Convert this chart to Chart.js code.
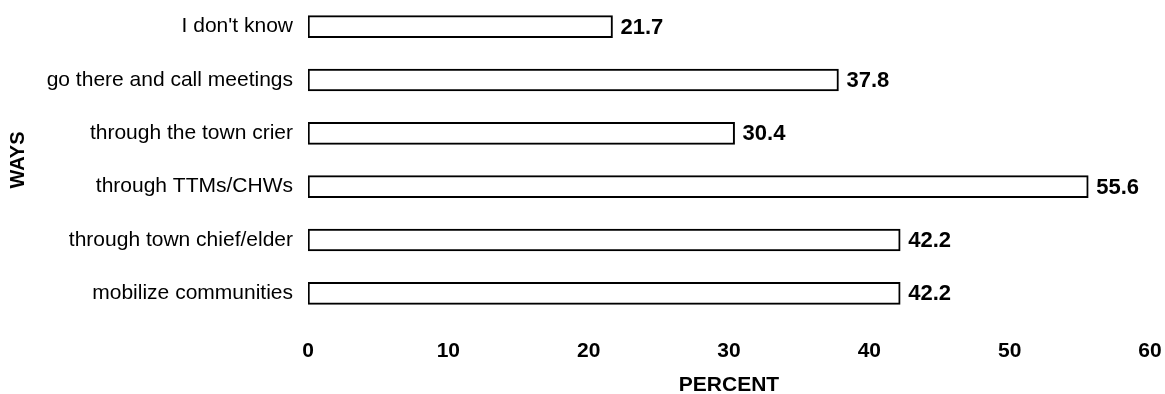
<!DOCTYPE html>
<html>
<head>
<meta charset="utf-8">
<script src="https://cdn.jsdelivr.net/npm/chart.js@4.4.1/dist/chart.umd.min.js"></script>
<style>
  html, body { margin: 0; padding: 0; background: #fff; }
  #wrap { width: 1165px; height: 394px; }
</style>
</head>
<body>
<div id="wrap"><canvas id="chart"></canvas></div>
<script>
// 데이터
const categories = [
    "I don't know",
    'go there and call meetings',
    'through the town crier',
    'through TTMs/CHWs',
    'through town chief/elder',
    'mobilize communities'
];
const percentValues = [21.7, 37.8, 30.4, 55.6, 42.2, 42.2];
const xTicks = [0, 10, 20, 30, 40, 50, 60];

const FONT = "'Liberation Sans', Arial, sans-serif";

// 막대 끝에 값 표시
const valueLabels = {
    id: 'valueLabels',
    afterDatasetsDraw(chart) {
        const ctx = chart.ctx;
        const meta = chart.getDatasetMeta(0);
        ctx.save();
        ctx.font = 'bold 22px ' + FONT;
        ctx.fillStyle = '#000';
        ctx.textAlign = 'left';
        ctx.textBaseline = 'middle';
        meta.data.forEach((bar, i) => {
            ctx.fillText(String(percentValues[i]), bar.x + 8, bar.y + 1);
        });
        ctx.restore();
    }
};

new Chart(document.getElementById('chart'), {
    type: 'bar',
    data: {
        labels: categories,
        datasets: [{
            data: percentValues,
            backgroundColor: '#fff',
            borderColor: '#000',
            borderWidth: 2,
            borderSkipped: false,
            barThickness: 22
        }]
    },
    options: {
        indexAxis: 'y',
        responsive: true,
        maintainAspectRatio: false,
        animation: false,
        layout: { padding: { left: 0, right: 15, top: 0, bottom: 0 } },
        plugins: {
            legend: { display: false },
            tooltip: { enabled: false }
        },
        scales: {
            x: {
                min: 0,
                max: 60,
                afterBuildTicks: s => { s.ticks = xTicks.map(v => ({ value: v })); },
                afterFit: s => { s.height = 74; s.paddingLeft = 0; s.paddingRight = 0; },
                grid: { display: false, drawTicks: false },
                border: { display: false },
                ticks: {
                    padding: 19,
                    color: '#000',
                    maxRotation: 0,
                    font: { family: FONT, size: 21, weight: 'bold' }
                },
                title: {
                    display: true,
                    text: 'PERCENT',
                    color: '#000',
                    padding: { top: 0, bottom: -2 },
                    font: { family: FONT, size: 21, weight: 'bold', lineHeight: 1 }
                }
            },
            y: {
                afterFit: s => { s.width = 308; s.paddingTop = 0; s.paddingBottom = 0; },
                grid: { display: false, drawTicks: false },
                border: { display: false },
                ticks: {
                    padding: 15,
                    color: '#000',
                    font: { family: FONT, size: 21 }
                },
                title: {
                    display: true,
                    text: 'WAYS',
                    color: '#000',
                    padding: { top: 6, bottom: 0 },
                    font: { family: FONT, size: 20, weight: 'bold' }
                }
            }
        }
    },
    plugins: [valueLabels]
});
</script>
</body>
</html>
